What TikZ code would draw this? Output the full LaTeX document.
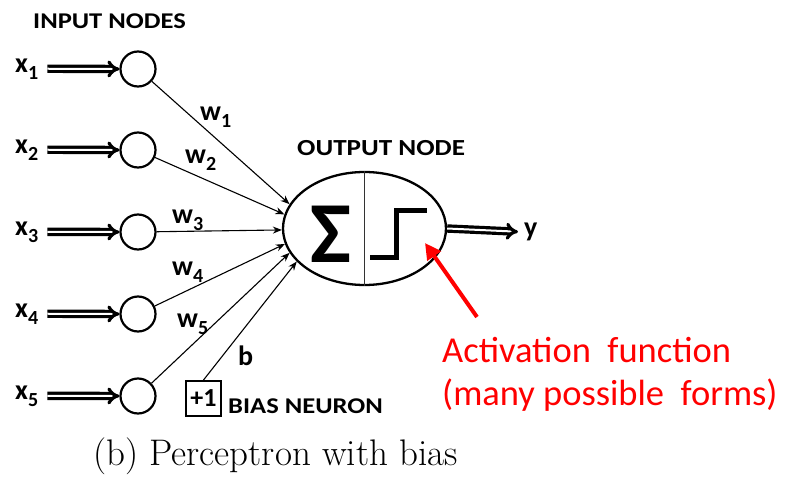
\documentclass[tikz,border=0pt]{standalone}
\usepackage{fontspec}
\newfontfamily\carlito{Carlito}
\newfontfamily\carlitow[FakeStretch=1.18]{Carlito}
\usetikzlibrary{arrows.meta,shapes.geometric}
\newcommand\lsub[1]{\raisebox{-7pt}{\fontsize{20}{20}\selectfont#1}}
\tikzset{innode/.style={circle,draw,line width=2.2pt,minimum size=35pt,inner sep=0pt},
sym/.style={font=\carlito\bfseries\fontsize{28}{30}\selectfont,inner sep=0pt},
head/.style={font=\carlitow\bfseries\fontsize{22.5}{25}\selectfont,inner sep=0pt},
feed/.style={double,line width=3.2pt,double distance=2pt,-{Implies[scale=1.5]},shorten <=9pt},
wgt/.style={line width=1.1pt,-{Stealth[length=9pt,width=7pt]}}}
\begin{document}
\begin{tikzpicture}[x=1pt,y=-1pt]
\useasboundingbox(0,0)rectangle(785,479);
\node[head,anchor=base west](inhead)at(33,28){INPUT NODES};
\node[innode](c1)at(138,69){};\node[innode](c2)at(138,150){};\node[innode](c3)at(138,232){};
\node[innode](c4)at(138,314){};\node[innode](c5)at(138,396){};
\node[sym,anchor=base west](x1)at(15,72){x\lsub1};\node[sym,anchor=base west](x2)at(15,153){x\lsub2};
\node[sym,anchor=base west](x3)at(15,235){x\lsub3};\node[sym,anchor=base west](x4)at(15,317){x\lsub4};
\node[sym,anchor=base west](x5)at(15,399){x\lsub5};
\draw[feed](x1.east)--(c1.west);\draw[feed](x2.east)--(c2.west);\draw[feed](x3.east)--(c3.west);
\draw[feed](x4.east)--(c4.west);\draw[feed](x5.east)--(c5.west);
\node[ellipse,draw,line width=2.3pt,minimum width=163pt,minimum height=113pt,inner sep=0pt](out)at(364.5,228.5){};
\draw[line width=1.2pt,black!80](out.north)--(out.south);
\node[font=\carlito\bfseries\fontsize{87}{87}\selectfont,inner sep=0pt](sum)at(331,234){Σ};
\draw[line width=5pt](370,257)-|(396,210)--(427,210);
\node[head,font=\carlitow\bfseries\fontsize{23}{25}\selectfont,anchor=base west](outhead)at(297,155){OUTPUT NODE};
\draw[wgt](c1)--(out.162);\draw[wgt](c2)--(out.170);\draw[wgt](c3)--(out.181);
\draw[wgt](c4)--(out.191);\draw[wgt](c5)--(out.198);
\node[sym,anchor=base west](w1)at(200,120){w\lsub1};\node[sym,anchor=base west](w2)at(185,163){w\lsub2};
\node[sym,anchor=base west](w3)at(172,223){w\lsub3};\node[sym,anchor=base west](w4)at(172,275){w\lsub4};
\node[sym,anchor=base west](w5)at(177,327){w\lsub5};
\node[draw,line width=2pt,minimum size=35pt,inner sep=0pt,font=\carlito\bfseries\fontsize{26}{28}\selectfont](bias)at(203.5,398.5){+1};
\node[head,anchor=base west](biashead)at(228,413){BIAS NEURON};
\draw[wgt](bias.north)--(out.206);\node[sym,anchor=base west](b)at(238,365){b};
\node[sym,anchor=west](y)at(524,232){y};\draw[feed,shorten <=0pt,shorten >=6pt](out.east)--(y.west);
\coordinate(act)at(425,243);\coordinate(tail)at(477,317);
\draw[red,line width=4pt,-{Triangle[length=16pt,width=16pt]}](tail)--(act);
\node[text=red,font=\carlito\fontsize{36.5}{43}\selectfont,align=left,anchor=base west,inner sep=0pt](note)at(442,405){Activation~ function\\(many possible~ forms)};
\node[font=\fontsize{37}{40}\selectfont,anchor=base west,inner sep=0pt](cap)at(93,465){(b) Perceptron with bias};
\end{tikzpicture}
\end{document}
